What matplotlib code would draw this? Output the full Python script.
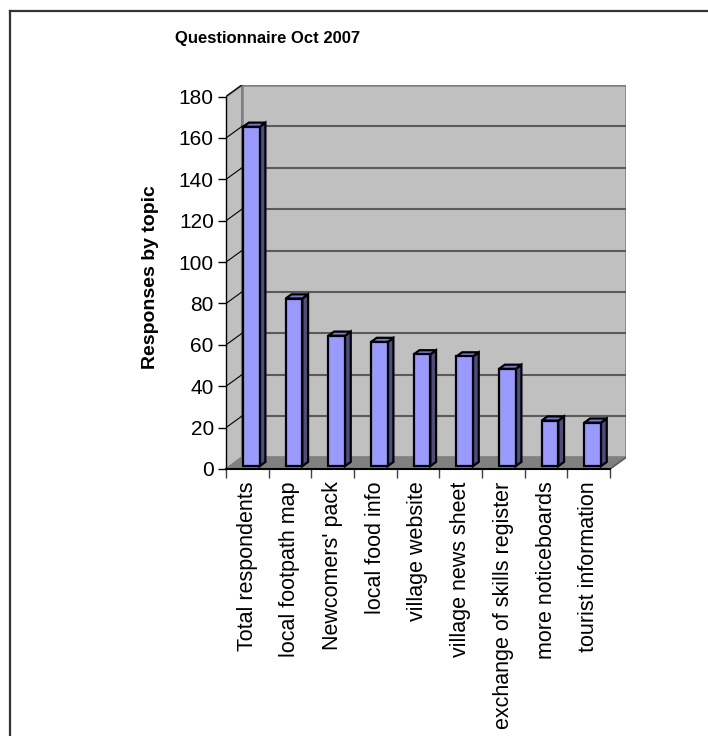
import matplotlib
matplotlib.use("Agg")
import matplotlib.pyplot as plt
from matplotlib.patches import Polygon, Rectangle
from matplotlib.lines import Line2D

plt.rcParams['font.family'] = ['Liberation Sans', 'DejaVu Sans']

# survey data
topics = ["Total respondents", "local footpath map", "Newcomers' pack",
          "local food info", "village website", "village news sheet",
          "exchange of skills register", "more noticeboards", "tourist information"]
responses = [164, 81, 63, 60, 54, 53, 47, 22, 21]
y_ticks = list(range(0, 181, 20))

# fake 3d depth of the plot box (data units)
DX, DY = 0.375, 5.6
BAR_W = 0.39      # front face width
BAR_F = 0.25      # where the bar front sits inside the depth
BAR_D = 0.36      # bar depth as share of the box depth

n = len(topics)
ymax = y_ticks[-1]

fig = plt.figure(figsize=(7.08, 7.36), dpi=100)
ax = fig.add_axes([226 / 708, 1 - 469 / 736, 400 / 708, 384 / 736])
ax.set_xlim(0, n + DX)
ax.set_ylim(0, ymax + DY)

wall = '#c0c0c0'
edge = '#808080'

# back wall, side wall, floor
ax.add_patch(Polygon([(DX, DY), (n + DX, DY), (n + DX, ymax + DY), (DX, ymax + DY)],
                     closed=True, fc=wall, ec=edge, lw=1.8, zorder=1))
ax.add_patch(Polygon([(0, 0), (DX, DY), (DX, ymax + DY), (0, ymax)],
                     closed=True, fc=wall, ec=edge, lw=1.5, zorder=1))
ax.add_patch(Polygon([(0, 0), (n, 0), (n + DX, DY), (DX, DY)],
                     closed=True, fc='#808080', ec='#808080', lw=1, zorder=2))

# gridlines on the back wall + connectors on the side wall
for v in y_ticks[1:-1]:
    ax.plot([DX, n + DX], [v + DY, v + DY], color='#5a5a5a', lw=1.5, zorder=2)
for v in y_ticks[1:]:
    ax.plot([0, DX], [v, v + DY], color='black', lw=0.8, zorder=2)
ax.plot([n, n + DX], [0, DY], color='#606060', lw=1.2, zorder=2)

# bars
for i, v in enumerate(responses):
    x0 = i + 0.5 - BAR_W / 2 + BAR_F * DX
    y0 = BAR_F * DY
    ddx, ddy = BAR_D * DX, BAR_D * DY
    ax.add_patch(Polygon([(x0 + BAR_W, y0), (x0 + BAR_W + ddx, y0 + ddy),
                          (x0 + BAR_W + ddx, y0 + v + ddy), (x0 + BAR_W, y0 + v)],
                         closed=True, fc='#4d4d80', ec='black', lw=1.6, zorder=4))
    ax.add_patch(Polygon([(x0, y0 + v), (x0 + BAR_W, y0 + v),
                          (x0 + BAR_W + ddx, y0 + v + ddy), (x0 + ddx, y0 + v + ddy)],
                         closed=True, fc='#7a7ad0', ec='black', lw=1.6, zorder=4))
    ax.add_patch(Rectangle((x0, y0), BAR_W, v, fc='#9999ff', ec='black',
                           lw=1.6, zorder=5))

# front axes
for s in ['top', 'right']:
    ax.spines[s].set_visible(False)
ax.spines['left'].set_bounds(0, ymax)
ax.spines['bottom'].set_bounds(0, n)
ax.spines['left'].set_zorder(6)
ax.spines['bottom'].set_zorder(6)
ax.spines['left'].set_linewidth(1.0)
ax.spines['bottom'].set_linewidth(1.5)

ax.set_yticks(y_ticks)
ax.set_yticklabels([str(t) for t in y_ticks], fontsize=15)
ax.tick_params(axis='y', length=5.8, width=1.0, pad=3)

ax.set_xticks([i + 0.5 for i in range(n)])
ax.set_xticklabels(topics, rotation=90, fontsize=15.5, va='top', ha='center')
ax.set_xticks(range(n + 1), minor=True)
ax.tick_params(axis='x', which='major', length=0, pad=9)
ax.tick_params(axis='x', which='minor', length=6.5, width=1.0, color='#404040')

ax.set_ylabel("Responses by topic", fontsize=14, fontweight='bold')
ax.yaxis.set_label_coords(-0.168, 0.5)

fig.text(268 / 708, 1 - 38 / 736, "Questionnaire Oct 2007",
         ha='center', va='center', fontsize=12, fontweight='bold')

# chart frame (left and top edges)
fig.add_artist(Line2D([10 / 708, 10 / 708], [0, 1 - 11 / 736],
                      transform=fig.transFigure, color='#333333', lw=1.6))
fig.add_artist(Line2D([10 / 708, 1], [1 - 11 / 736, 1 - 11 / 736],
                      transform=fig.transFigure, color='#333333', lw=1.6))

fig.savefig('out.png', dpi=100)
